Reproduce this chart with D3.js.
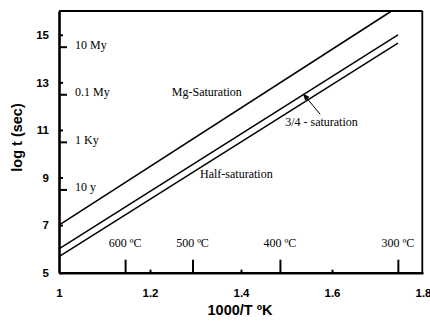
<!DOCTYPE html>
<html><head><meta charset="utf-8">
<script src="https://cdn.jsdelivr.net/npm/d3@7"></script>
<style>body{margin:0;background:#fff}svg{display:block}</style>
</head><body>
<script>
// ---- data ----
const xTicks = [1, 1.2, 1.4, 1.6, 1.8];
const xTickLabels = ["1", "1.2", "1.4", "1.6", "1.8"];
const yTicks = [5, 7, 9, 11, 13, 15];
const yTickLabels = ["5", "7", "9", "11", "13", "15"];
const tempC = [600, 500, 400, 300];
const tempLabels = ["600 ºC", "500 ºC", "400 ºC", "300 ºC"];
const ageLogT = [14.5, 12.5, 10.5, 8.5];
const ageLabels = ["10 My", "0.1 My", "1 Ky", "10 y"];
const seriesNames = ["Mg-Saturation", "3/4 - saturation", "Half-saturation"];
const mgSat = [[1, 7.0], [1.731, 16.0]];
const threeQuarterSat = [[1, 6.0], [1.745, 15.0]];
const halfSat = [[1, 5.68], [1.745, 14.65]];
const labelPos = [[1.248, 12.42], [1.497, 11.15], [1.31, 9.0]];
const arrowFromTo = [[1.574, 11.66], [1.537, 12.51]];

const W = 430, H = 325;
const m = {l: 59, r: 8, t: 11, b: 52.3};
const svg = d3.select("body").append("svg").attr("width", W).attr("height", H);
const x = d3.scaleLinear().domain([1, 1.8]).range([m.l, 423]);
const y = d3.scaleLinear().domain([5, 16]).range([272.7, m.t]);

const sans = "'Liberation Sans', Arial, sans-serif";
const serif = "'Liberation Serif', 'Times New Roman', serif";

// frame top/right
svg.append("line").attr("x1", x(1)).attr("x2", 422.3).attr("y1", y(16)).attr("y2", y(16)).attr("stroke", "#000").attr("stroke-width", 1.8);
svg.append("line").attr("x1", 422.3).attr("x2", 422.3).attr("y1", y(16)).attr("y2", y(5)).attr("stroke", "#000").attr("stroke-width", 1.8);

// x axis
const xAxis = d3.axisBottom(x).tickValues(xTicks).tickSizeInner(-3).tickSizeOuter(0)
  .tickFormat((d, i) => xTickLabels[i]).tickPadding(16);
const gx = svg.append("g").attr("transform", `translate(0,${y(5)})`).call(xAxis);
gx.select(".domain").attr("stroke-width", 2.6);
gx.selectAll(".tick line").attr("stroke-width", 2).filter(d => d === 1 || d === 1.8).remove();
gx.selectAll(".tick text").attr("font-family", sans).attr("font-weight", "bold").attr("font-size", 11.5).attr("fill", "#000");

// temperature ticks
const tAxis = d3.axisBottom(x).tickValues(tempC.map(c => 1000 / (c + 273.15))).tickSizeInner(-13).tickSizeOuter(0).tickFormat("");
const gt = svg.append("g").attr("transform", `translate(0,${y(5)})`).call(tAxis);
gt.select(".domain").remove();
gt.selectAll(".tick line").attr("stroke-width", 2);
svg.selectAll(".templab").data(tempC).enter().append("text")
  .attr("x", d => x(1000 / (d + 273.15))).attr("y", y(5) - 26)
  .attr("text-anchor", "middle").attr("font-family", serif).attr("font-size", 12)
  .text((d, i) => tempLabels[i]);

// y axis
const yAxis = d3.axisLeft(y).tickValues(yTicks).tickSizeInner(-4).tickSizeOuter(0)
  .tickFormat((d, i) => yTickLabels[i]).tickPadding(10);
const gy = svg.append("g").attr("transform", `translate(${x(1)},0)`).call(yAxis);
gy.select(".domain").attr("stroke-width", 2.6);
gy.selectAll(".tick line").attr("stroke-width", 2);
gy.selectAll(".tick text").attr("font-family", sans).attr("font-weight", "bold").attr("font-size", 11.5).attr("fill", "#000");

// age ticks
const aAxis = d3.axisLeft(y).tickValues(ageLogT).tickSizeInner(-8).tickSizeOuter(0).tickFormat("");
const ga = svg.append("g").attr("transform", `translate(${x(1)},0)`).call(aAxis);
ga.select(".domain").remove();
ga.selectAll(".tick line").attr("stroke-width", 2);
svg.selectAll(".agelab").data(ageLogT).enter().append("text")
  .attr("x", x(1) + 16).attr("y", d => y(d) + 2)
  .attr("font-family", serif).attr("font-size", 12)
  .text((d, i) => ageLabels[i]);

// lines
const line = d3.line().x(d => x(d[0])).y(d => y(d[1]));
[mgSat, threeQuarterSat, halfSat].forEach(s => {
  svg.append("path").attr("d", line(s)).attr("fill", "none").attr("stroke", "#000").attr("stroke-width", 1.5);
});

// series labels
svg.selectAll(".slab").data(seriesNames).enter().append("text")
  .attr("x", (d, i) => x(labelPos[i][0])).attr("y", (d, i) => y(labelPos[i][1]))
  .attr("font-family", serif).attr("font-size", 12)
  .text(d => d);

// arrow
svg.append("defs").append("marker").attr("id", "ah").attr("viewBox", "0 0 10 10")
  .attr("refX", 9).attr("refY", 5).attr("markerWidth", 7).attr("markerHeight", 7)
  .attr("markerUnits", "userSpaceOnUse").attr("orient", "auto")
  .append("path").attr("d", "M0,1 L10,5 L0,9 Z").attr("fill", "#000");
svg.append("line")
  .attr("x1", x(arrowFromTo[0][0])).attr("y1", y(arrowFromTo[0][1]))
  .attr("x2", x(arrowFromTo[1][0])).attr("y2", y(arrowFromTo[1][1]))
  .attr("stroke", "#000").attr("stroke-width", 1).attr("marker-end", "url(#ah)");

// axis titles
svg.append("text").attr("x", 240).attr("y", 315).attr("text-anchor", "middle")
  .attr("font-family", sans).attr("font-weight", "bold").attr("font-size", 14.5).text("1000/T ºK");
svg.append("text").attr("transform", "translate(22,137.5) rotate(-90)").attr("text-anchor", "middle")
  .attr("font-family", sans).attr("font-weight", "bold").attr("font-size", 14.5).text("log t (sec)");
</script>
</body></html>
